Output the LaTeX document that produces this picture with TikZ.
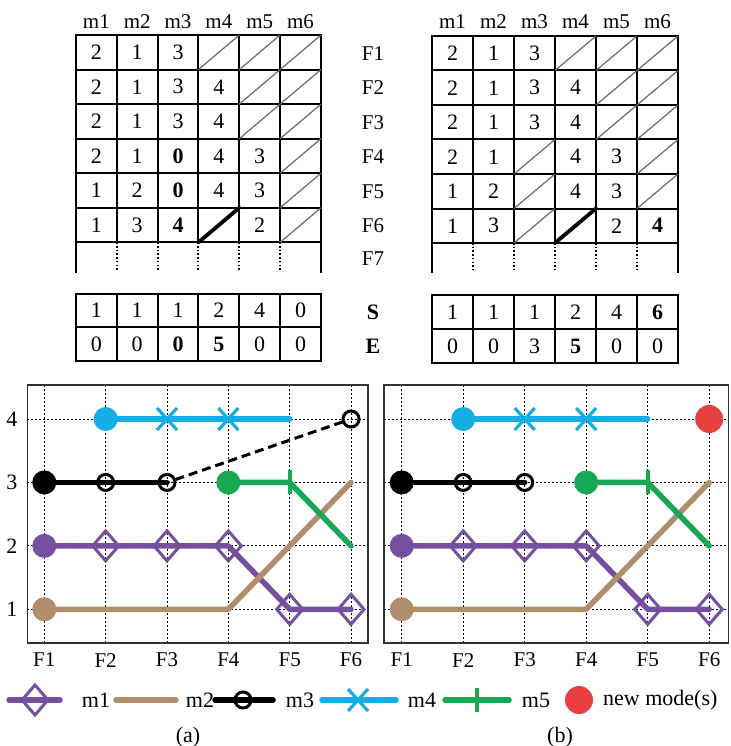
\documentclass[tikz,border=0pt]{standalone}
\usepackage{fontspec}
\setmainfont{Liberation Serif}
\usetikzlibrary{calc}
\definecolor{cpur}{RGB}{118,80,160}
\definecolor{ctan}{RGB}{176,142,108}
\definecolor{ccyan}{RGB}{22,172,228}
\definecolor{cgreen}{RGB}{22,168,82}
\definecolor{cred}{RGB}{232,64,64}
\definecolor{cslash}{RGB}{105,105,105}
\definecolor{cbox}{RGB}{50,50,50}
\tikzset{
  txt/.style={font=\fontsize{22}{22}\selectfont, inner sep=0pt},
  ltxt/.style={font=\fontsize{21}{21}\selectfont, inner sep=0pt},
  btxt/.style={font=\fontsize{22}{22}\selectfont\bfseries, inner sep=0pt},
  tline/.style={line width=2pt, line cap=rect},
  tdots/.style={line width=2pt, dash pattern=on 1.5pt off 2.2pt},
  slash/.style={cslash, line width=1.2pt},
  hslash/.style={black, line width=3.8pt, line cap=round},
  gridln/.style={black, line width=1pt, dash pattern=on 2pt off 2pt},
  pbox/.style={cbox, line width=1.4pt},
  dl/.style={line width=5.5pt, line cap=round, line join=round},
  dashl/.style={black, line width=3pt, dash pattern=on 9pt off 5pt},
  startdot/.style={circle, inner sep=0pt, minimum size=24pt},
  mdia/.pic={\draw[cpur, line width=3pt, line join=miter] (-13pt,0pt) -- (0pt,15pt) -- (13pt,0pt) -- (0pt,-15pt) -- cycle;},
  mcirc/.pic={\draw[black, line width=3pt] (0pt,0pt) circle (8pt);},
  mx/.pic={\draw[ccyan, line width=3.2pt] (-10pt,-11pt) -- (10pt,11pt) (-10pt,11pt) -- (10pt,-11pt);},
  mplus/.pic={\draw[cgreen, line width=3.8pt] (0pt,-12pt) -- (0pt,12pt);},
}
\begin{document}
\begin{tikzpicture}[x=1pt,y=-1pt]
\useasboundingbox (0,0) rectangle (730,746);

% ================= top-left table =================
\begin{scope}[shift={(76,35)}, x=40.83pt, y=-34.55pt]
  \foreach \r in {0,...,6} \draw[tline] (0,\r) -- (6,\r);
  \draw[tline] (0,0) -- (0,6.85);
  \draw[tline] (6,0) -- (6,6.85);
  \foreach \c in {1,...,5} {\draw[tline] (\c,0) -- (\c,6); \draw[tdots] (\c,6) -- (\c,6.85);}
  \foreach \c in {1,...,6} \node[ltxt] (Lh\c) at (\c-0.5,-0.39) {m\c};
  \foreach \c/\r/\v in {0/0/2,1/0/1,2/0/3,
                        0/1/2,1/1/1,2/1/3,3/1/4,
                        0/2/2,1/2/1,2/2/3,3/2/4,
                        0/3/2,1/3/1,2/3/\textbf{0},3/3/4,4/3/3,
                        0/4/1,1/4/2,2/4/\textbf{0},3/4/4,4/4/3,
                        0/5/1,1/5/3,2/5/\textbf{4},4/5/2}
     \node[txt] (L\r\c) at (\c+0.5,\r+0.5) {\v};
  \foreach \c/\r in {3/0,4/0,5/0,4/1,5/1,4/2,5/2,5/3,5/4,5/5}
     \draw[slash] (\c,\r+1) -- (\c+1,\r);
  \draw[hslash] (3,6) -- (4,5);
\end{scope}

% ================= top-right table =================
\begin{scope}[shift={(432,36)}, x=41pt, y=-34.5pt]
  \foreach \r in {0,...,6} \draw[tline] (0,\r) -- (6,\r);
  \draw[tline] (0,0) -- (0,6.85);
  \draw[tline] (6,0) -- (6,6.85);
  \foreach \c in {1,...,5} {\draw[tline] (\c,0) -- (\c,6); \draw[tdots] (\c,6) -- (\c,6.85);}
  \foreach \c in {1,...,6} \node[ltxt] (Rh\c) at (\c-0.5,-0.42) {m\c};
  \foreach \r in {1,...,6} \node[ltxt] (F\r) at (-1.44,\r-0.5) {F\r};
  \node[ltxt] (F7) at (-1.44,6.45) {F7};
  \foreach \c/\r/\v in {0/0/2,1/0/1,2/0/3,
                        0/1/2,1/1/1,2/1/3,3/1/4,
                        0/2/2,1/2/1,2/2/3,3/2/4,
                        0/3/2,1/3/1,3/3/4,4/3/3,
                        0/4/1,1/4/2,3/4/4,4/4/3,
                        0/5/1,1/5/3,4/5/2,5/5/\textbf{4}}
     \node[txt] (R\r\c) at (\c+0.5,\r+0.5) {\v};
  \foreach \c/\r in {3/0,4/0,5/0,4/1,5/1,4/2,5/2,2/3,5/3,2/4,5/4,2/5}
     \draw[slash] (\c,\r+1) -- (\c+1,\r);
  \draw[hslash] (3,6) -- (4,5);
\end{scope}

% ================= S / E tables =================
\begin{scope}[shift={(76,293.5)}, x=40.83pt, y=-33.75pt]
  \foreach \r in {0,1,2} \draw[tline] (0,\r) -- (6,\r);
  \foreach \c in {0,...,6} \draw[tline] (\c,0) -- (\c,2);
  \foreach \c/\v in {0/1,1/1,2/1,3/2,4/4,5/0} \node[txt] (LS\c) at (\c+0.5,0.5) {\v};
  \foreach \c/\v in {0/0,1/0,2/\textbf{0},3/\textbf{5},4/0,5/0} \node[txt] (LE\c) at (\c+0.5,1.5) {\v};
\end{scope}
\begin{scope}[shift={(432,295.3)}, x=41pt, y=-34pt]
  \foreach \r in {0,1,2} \draw[tline] (0,\r) -- (6,\r);
  \foreach \c in {0,...,6} \draw[tline] (\c,0) -- (\c,2);
  \foreach \c/\v in {0/1,1/1,2/1,3/2,4/4,5/\textbf{6}} \node[txt] (RS\c) at (\c+0.5,0.5) {\v};
  \foreach \c/\v in {0/0,1/0,2/3,3/\textbf{5},4/0,5/0} \node[txt] (RE\c) at (\c+0.5,1.5) {\v};
  \node[btxt] (Slab) at (-1.44,0.5) {S};
  \node[btxt] (Elab) at (-1.44,1.5) {E};
\end{scope}

% ================= plot (a) =================
\begin{scope}[shift={(-17.05,672.73)}, x=61.35pt, y=63.43pt]
  \foreach \i in {1,...,6} \draw[gridln] (\i,0.4687) -- (\i,4.536);
  \foreach \l in {1,...,4} \draw[gridln] (0.7229,\l) -- (6.276,\l);
  \draw[pbox] (0.7229,0.4687) rectangle (6.276,4.536);
  \foreach \l in {1,...,4} \node[txt] (ya\l) at (0.4735,\l) {\l};
  \foreach \i in {1,...,6} \node[ltxt] (xa\i) at (\i,0.2) {F\i};
  \foreach \i in {1,...,6} \foreach \l in {1,...,4} \coordinate (a\i\l) at (\i,\l);
  % m1
  \draw[cpur, dl] (a12) -- (a22) -- (a32) -- (a42) -- (a51) -- (a61);
  % m2
  \draw[ctan, dl] (a11) -- (a41) -- (a63);
  % m3
  \draw[black, dl] (a13) -- (a23) -- (a33);
  \draw[dashl] ($(a33)!9pt!(a64)$) -- ($(a64)!9pt!(a33)$);
  % m4
  \draw[ccyan, dl] (a24) -- (a54);
  % m5
  \draw[cgreen, dl] (a43) -- (a53) -- (a62);
  % markers
  \node[startdot, fill=cpur] (sa1) at (a12) {};
  \node[startdot, fill=ctan] (sa2) at (a11) {};
  \node[startdot, fill=black] (sa3) at (a13) {};
  \node[startdot, fill=ccyan] (sa4) at (a24) {};
  \node[startdot, fill=cgreen] (sa5) at (a43) {};
  \foreach \p in {a22,a32,a42,a51,a61} \pic at (\p) {mdia};
  \foreach \p in {a23,a33,a64} \pic at (\p) {mcirc};
  \foreach \p in {a34,a44} \pic at (\p) {mx};
  \pic at (a53) {mplus};
\end{scope}

% ================= plot (b) =================
\begin{scope}[shift={(340.2,672.73)}, x=61.5pt, y=63.43pt]
  \foreach \i in {1,...,6} \draw[gridln] (\i,0.4687) -- (\i,4.536);
  \foreach \l in {1,...,4} \draw[gridln] (0.712,\l) -- (6.311,\l);
  \draw[pbox] (0.712,0.4687) rectangle (6.311,4.536);
  \foreach \i in {1,...,6} \node[ltxt] (xb\i) at (\i,0.2) {F\i};
  \foreach \i in {1,...,6} \foreach \l in {1,...,4} \coordinate (b\i\l) at (\i,\l);
  \draw[cpur, dl] (b12) -- (b22) -- (b32) -- (b42) -- (b51) -- (b61);
  \draw[ctan, dl] (b11) -- (b41) -- (b63);
  \draw[black, dl] (b13) -- (b23) -- (b33);
  \draw[ccyan, dl] (b24) -- (b54);
  \draw[cgreen, dl] (b43) -- (b53) -- (b62);
  \node[startdot, fill=cpur] (sb1) at (b12) {};
  \node[startdot, fill=ctan] (sb2) at (b11) {};
  \node[startdot, fill=black] (sb3) at (b13) {};
  \node[startdot, fill=ccyan] (sb4) at (b24) {};
  \node[startdot, fill=cgreen] (sb5) at (b43) {};
  \node[startdot, fill=cred, minimum size=28pt] (sbnew) at (b64) {};
  \foreach \p in {b22,b32,b42,b51,b61} \pic at (\p) {mdia};
  \foreach \p in {b23,b33} \pic at (\p) {mcirc};
  \foreach \p in {b34,b44} \pic at (\p) {mx};
  \pic at (b53) {mplus};
\end{scope}

% ================= legend =================
\def\ly{700}
\coordinate (g1a) at (9,\ly);   \coordinate (g1b) at (60,\ly);
\coordinate (g2a) at (116,\ly); \coordinate (g2b) at (176,\ly);
\coordinate (g3a) at (215,\ly); \coordinate (g3b) at (273,\ly);
\coordinate (g4a) at (322,\ly); \coordinate (g4b) at (396,\ly);
\coordinate (g5a) at (445,\ly); \coordinate (g5b) at (509,\ly);
\draw[cpur, dl] (g1a) -- (g1b);  \pic at (35,\ly) {mdia};
\node[txt] (gm1) at (96,\ly) {m1};
\draw[ctan, dl] (g2a) -- (g2b);
\node[txt] (gm2) at (200,\ly) {m2};
\draw[black, dl] (g3a) -- (g3b); \pic at (243,\ly) {mcirc};
\node[txt] (gm3) at (300,\ly) {m3};
\draw[ccyan, dl] (g4a) -- (g4b); \pic at (358,\ly) {mx};
\node[txt] (gm4) at (422,\ly) {m4};
\draw[cgreen, dl] (g5a) -- (g5b); \pic at (477,\ly) {mplus};
\node[txt] (gm5) at (536,\ly) {m5};
\node[startdot, fill=cred, minimum size=28pt] (gnew) at (579,\ly) {};
\node[txt, anchor=west] (gnewt) at (603,\ly) {new mode(s)};

\node[txt] (capa) at (188,737) {(a)};
\node[txt] (capb) at (560,737) {(b)};
\end{tikzpicture}
\end{document}
